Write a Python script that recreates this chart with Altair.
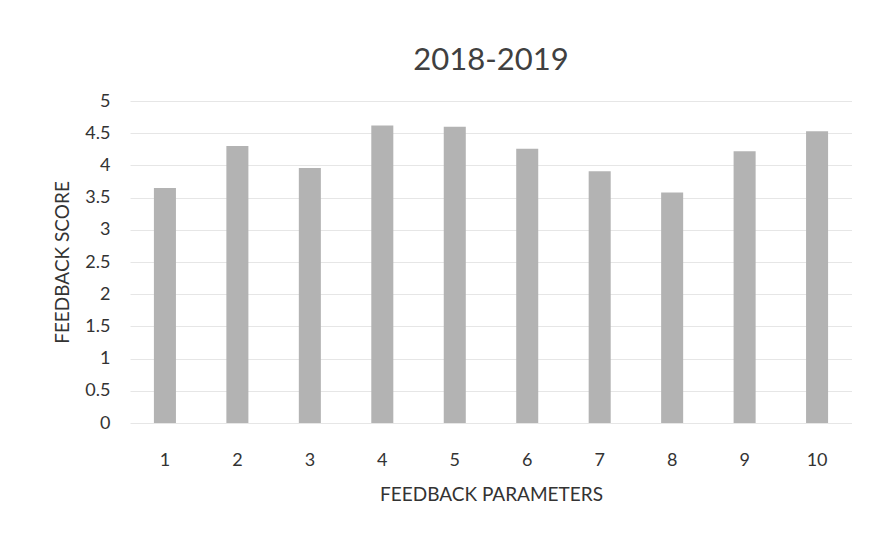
import altair as alt
import pandas as pd

params = ["1", "2", "3", "4", "5", "6", "7", "8", "9", "10"]
scores = [3.65, 4.30, 3.96, 4.62, 4.60, 4.26, 3.91, 3.58, 4.22, 4.53]

df = pd.DataFrame({"param": params, "score": scores})

font = "Lato"

chart = alt.Chart(df).mark_bar(color="#b3b3b3").encode(
    x=alt.X("param:N", sort=params,
            scale=alt.Scale(paddingInner=0.696, paddingOuter=0.33),
            axis=alt.Axis(title="FEEDBACK PARAMETERS", labelAngle=0, domain=False,
                          ticks=False, labelPadding=28, titlePadding=16,
                          labelFontSize=18, titleFontSize=19, labelColor="#333333",
                          titleColor="#333333", labelFont=font, titleFont=font,
                          titleFontWeight="normal")),
    y=alt.Y("score:Q", scale=alt.Scale(domain=[0, 5]),
            axis=alt.Axis(title="FEEDBACK SCORE", values=[0, 0.5, 1, 1.5, 2, 2.5, 3, 3.5, 4, 4.5, 5],
                          format="~g", domain=False, ticks=False, labelPadding=20,
                          titlePadding=12, labelFontSize=18, titleFontSize=19,
                          labelColor="#333333", titleColor="#333333", labelFont=font,
                          titleFont=font, titleFontWeight="normal",
                          gridColor="#e6e6e6")),
).properties(
    width=722, height=322,
    title=alt.TitleParams("2018-2019", fontSize=31, font=font, fontWeight="normal",
                          color="#404040", anchor="middle", offset=15),
    autosize=alt.AutoSizeParams(type="none"),
    padding={"left": 122, "top": 93, "right": 0, "bottom": 100},
).configure(background="white").configure_view(stroke=None)

chart.save("out.html", embed_options={"renderer": "svg", "actions": False})
